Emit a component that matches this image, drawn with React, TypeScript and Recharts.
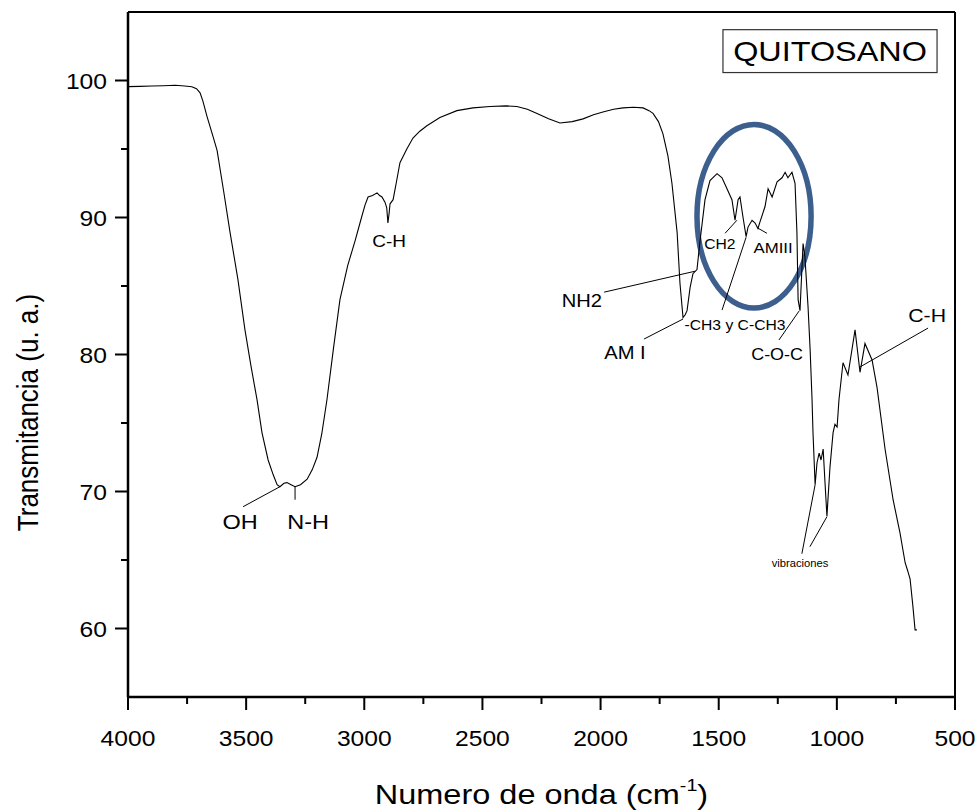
import React from "react";
import {
  LineChart,
  Line,
  XAxis,
  YAxis,
  ReferenceLine,
  ReferenceDot,
  ReferenceArea,
} from "recharts";

// FTIR spectrum of chitosan (quitosano)
const WAVENUMBER = [
  4000, 3950, 3900, 3850, 3800, 3760, 3730, 3710, 3695, 3683,
  3666, 3640, 3623, 3595, 3568, 3535, 3505, 3480, 3454, 3433,
  3407, 3385, 3369, 3357, 3340, 3327, 3310, 3293, 3270, 3242,
  3220, 3200, 3180, 3158, 3130, 3103, 3070, 3039, 3015, 2997,
  2984, 2965, 2946, 2935, 2925, 2912, 2905, 2900, 2895, 2891,
  2878, 2865, 2849, 2820, 2794, 2765, 2735, 2680, 2608, 2540,
  2468, 2400, 2354, 2310, 2269, 2220, 2172, 2120, 2074, 2030,
  1990, 1945, 1905, 1860, 1820, 1795, 1778, 1755, 1736, 1715,
  1698, 1676, 1664, 1651, 1642, 1634, 1621, 1609, 1592, 1579,
  1558, 1537, 1507, 1486, 1465, 1444, 1431, 1418, 1410, 1397,
  1384, 1376, 1359, 1346, 1334, 1325, 1304, 1291, 1274, 1253,
  1232, 1219, 1207, 1190, 1177, 1169, 1164, 1156, 1143, 1135,
  1122, 1113, 1105, 1101, 1092, 1084, 1075, 1067, 1058, 1050,
  1042, 1029, 1016, 1008, 999, 991, 974, 953, 923, 902,
  881, 851, 830, 796, 762, 733, 711, 700, 690, 678,
  669, 661,
];

const TRANSMITTANCE = [
  99.55, 99.57, 99.6, 99.62, 99.65, 99.6, 99.55, 99.4, 99.1, 98.5,
  97.4, 95.9, 94.9, 91.9, 88.9, 85.5, 81.8, 79.2, 76.7, 74.3,
  72.3, 71.2, 70.5, 70.35, 70.6, 70.65, 70.5, 70.35, 70.5, 70.9,
  71.6, 72.5, 74.2, 76.7, 80.5, 84.0, 86.5, 88.3, 89.8, 90.9,
  91.5, 91.6, 91.8, 91.6, 91.5, 91.1, 90.7, 89.6, 90.3, 91.0,
  91.3, 92.5, 94.0, 95.0, 95.8, 96.3, 96.7, 97.3, 97.8, 98.0,
  98.1, 98.15, 98.1, 97.9, 97.6, 97.2, 96.9, 97.0, 97.2, 97.5,
  97.7, 97.9, 98.0, 98.05, 98.0, 97.8, 97.6, 97.0, 96.1, 94.5,
  92.5, 88.9, 85.2, 82.7, 82.9, 83.2, 84.9, 85.9, 86.2, 88.3,
  91.3, 92.7, 93.2, 92.9, 92.1, 91.3, 89.8, 91.3, 91.5, 90.0,
  88.6, 89.3, 89.8, 89.6, 89.2, 89.7, 90.8, 92.1, 91.5, 92.6,
  92.9, 93.3, 92.9, 93.3, 92.5, 88.9, 84.0, 83.2, 88.1, 87.1,
  83.5, 80.3, 76.7, 74.3, 70.5, 72.1, 72.8, 72.3, 73.1, 70.6,
  68.2, 71.8, 74.3, 74.9, 74.7, 76.7, 79.4, 78.5, 81.8, 78.7,
  80.8, 79.6, 77.6, 73.1, 69.4, 67.0, 64.8, 64.2, 63.6, 61.6,
  59.9, 59.9,
];

const X_MAJOR = [4000, 3500, 3000, 2500, 2000, 1500, 1000, 500];
const X_MINOR = [3750, 3250, 2750, 2250, 1750, 1250, 750];
const Y_MAJOR = [60, 70, 80, 90, 100];
const Y_MINOR = [65, 75, 85, 95];

// band labels: text, wavenumber, transmittance
const LABEL_TEXT = ["OH", "N-H", "C-H", "NH2", "AM I", "-CH3 y C-CH3", "CH2", "AMIII", "C-O-C", "C-H", "vibraciones"];
const LABEL_WN = [3526, 3238, 2895, 2079, 1897, 1431, 1495, 1270, 1253, 618, 1156];
const LABEL_T = [67.8, 67.8, 88.27, 83.9, 80.1, 82.15, 88.05, 87.76, 79.96, 82.88, 64.8];
const LABEL_SIZE = [21, 21, 17, 18, 18, 14, 14, 15, 16, 19, 10];

// leader lines: from (wn, T) to (wn, T)
const LEADERS: [number, number, number, number][] = [
  [3513, 68.89, 3357, 70.35],
  [3293, 69.4, 3293, 70.35],
  [1985, 84.55, 1600, 86.08],
  [1816, 81.13, 1651, 82.59],
  [1486, 83.24, 1384, 88.56],
  [1473, 88.85, 1423, 89.8],
  [1334, 89.22, 1296, 88.85],
  [1245, 81.06, 1160, 83.17],
  [614, 81.93, 902, 79.09],
  [1148, 65.46, 1092, 70.49],
  [1114, 65.97, 1042, 68.16],
];

const FONT = "'Liberation Sans', Arial, Helvetica, sans-serif";
const STRETCH = 1.12;

const data = WAVENUMBER.map((wn, i) => ({ wn, t: TRANSMITTANCE[i] }));

function XTick(props: any) {
  const { x, y, payload } = props;
  const major = payload.value % 500 === 0;
  return (
    <g>
      <line x1={x} y1={y} x2={x} y2={y + (major ? 13 : 7)} stroke="#000" strokeWidth={2} />
      {major && (
        <text
          transform={`translate(${x} ${y + 49}) scale(${STRETCH} 1)`}
          textAnchor="middle"
          fontSize={22}
          fontFamily={FONT}
          fill="#000"
        >
          {payload.value}
        </text>
      )}
    </g>
  );
}

function YTick(props: any) {
  const { x, y, payload } = props;
  const major = payload.value % 10 === 0;
  return (
    <g>
      <line x1={x - (major ? 13 : 7)} y1={y} x2={x} y2={y} stroke="#000" strokeWidth={2} />
      {major && (
        <text
          transform={`translate(${x - 21} ${y + 8}) scale(${STRETCH} 1)`}
          textAnchor="end"
          fontSize={22}
          fontFamily={FONT}
          fill="#000"
        >
          {payload.value}
        </text>
      )}
    </g>
  );
}

function XTitle(props: any) {
  const { viewBox } = props;
  const cx = viewBox.x + viewBox.width / 2;
  return (
    <text
      transform={`translate(${cx} ${viewBox.y + 107}) scale(1.16 1)`}
      textAnchor="middle"
      fontSize={28}
      fontFamily={FONT}
      fill="#000"
    >
      <tspan>Numero de onda (cm</tspan>
      <tspan dy={-13} fontSize={17}>-1</tspan>
      <tspan dy={13}>)</tspan>
    </text>
  );
}

function YTitle(props: any) {
  const { viewBox } = props;
  const cy = viewBox.y + viewBox.height / 2 + 58;
  return (
    <text
      transform={`translate(${viewBox.x - 30} ${cy}) scale(${STRETCH} 1) rotate(-90)`}
      textAnchor="middle"
      fontSize={26}
      fontFamily={FONT}
      fill="#000"
    >
      Transmitancia (u. a.)
    </text>
  );
}

export default function App() {
  return (
    <div style={{ position: "absolute", left: 0, top: 0, background: "#fff" }}>
      <LineChart
        width={978}
        height={810}
        data={data}
        margin={{ top: 12, right: 23, bottom: 53, left: 68 }}
      >
        <XAxis
          type="number"
          dataKey="wn"
          domain={[500, 4000]}
          reversed
          ticks={[...X_MAJOR, ...X_MINOR].sort((a, b) => b - a)}
          interval={0}
          height={60}
          tickSize={0}
          tickMargin={0}
          tickLine={false}
          tick={<XTick />}
          axisLine={{ stroke: "#000", strokeWidth: 2.5 }}
          label={<XTitle />}
        />
        <YAxis
          type="number"
          domain={[55, 105]}
          ticks={[...Y_MAJOR, ...Y_MINOR].sort((a, b) => a - b)}
          interval={0}
          width={60}
          tickSize={0}
          tickMargin={0}
          tickLine={false}
          tick={<YTick />}
          axisLine={{ stroke: "#000", strokeWidth: 2.5 }}
          label={<YTitle />}
        />
        <ReferenceLine y={105} stroke="#000" strokeWidth={2} />
        <ReferenceLine x={500} stroke="#000" strokeWidth={2} />

        <Line
          type="linear"
          dataKey="t"
          stroke="#000"
          strokeWidth={1.1}
          dot={false}
          isAnimationActive={false}
        />

        {LEADERS.map((s, i) => (
          <ReferenceLine
            key={"l" + i}
            segment={[
              { x: s[0], y: s[1] },
              { x: s[2], y: s[3] },
            ]}
            stroke="#000"
            strokeWidth={1}
          />
        ))}

        {LABEL_TEXT.map((txt, i) => (
          <ReferenceDot
            key={"t" + i}
            x={LABEL_WN[i]}
            y={LABEL_T[i]}
            r={0}
            shape={(p: any) => (
              <text
                transform={`translate(${p.cx} ${p.cy}) scale(${STRETCH} 1)`}
                textAnchor="middle"
                dominantBaseline="central"
                fontSize={LABEL_SIZE[i]}
                fontFamily={FONT}
                fill="#000"
              >
                {txt}
              </text>
            )}
          />
        ))}

        <ReferenceArea
          x1={1592}
          x2={1109}
          y1={83.39}
          y2={96.79}
          shape={(p: any) => (
            <ellipse
              cx={p.x + p.width / 2}
              cy={p.y + p.height / 2}
              rx={p.width / 2}
              ry={p.height / 2}
              fill="none"
              stroke="#3C5F8E"
              strokeWidth={5.5}
            />
          )}
        />

        <ReferenceArea
          x1={1482}
          x2={576}
          y1={100.58}
          y2={103.71}
          shape={(p: any) => (
            <g>
              <rect x={p.x} y={p.y} width={p.width} height={p.height} fill="#fff" stroke="#333" strokeWidth={1.2} />
              <text
                transform={`translate(${p.x + p.width / 2} ${p.y + p.height / 2 + 10}) scale(1.2 1)`}
                textAnchor="middle"
                fontSize={27}
                fontFamily={FONT}
                fill="#000"
              >
                QUITOSANO
              </text>
            </g>
          )}
        />
      </LineChart>
    </div>
  );
}
